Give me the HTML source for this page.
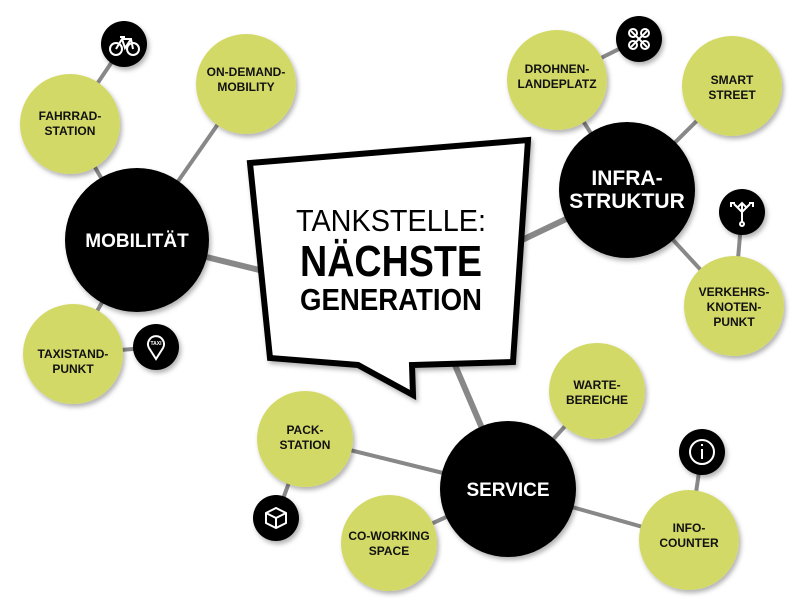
<!DOCTYPE html>
<html><head><meta charset="utf-8"><style>
html,body{margin:0;padding:0;background:#fff;}
svg{display:block;}
text{font-family:"Liberation Sans",sans-serif;font-weight:bold;text-anchor:middle;}
</style></head><body>
<svg width="800" height="600" viewBox="0 0 800 600">
<defs><filter id="sh" x="-20%" y="-20%" width="150%" height="150%"><feDropShadow dx="2" dy="3" stdDeviation="2.5" flood-color="#000" flood-opacity="0.3"/></filter></defs>
<g stroke="#888" stroke-width="4">
<line x1="137" y1="240" x2="70" y2="124"/>
<line x1="70" y1="124" x2="124" y2="44"/>
<line x1="137" y1="240" x2="246" y2="84"/>
<line x1="137" y1="240" x2="73" y2="354"/>
<line x1="73" y1="354" x2="156" y2="347"/>
<line x1="137" y1="240" x2="300" y2="280" stroke-width="6"/>
<line x1="627" y1="190" x2="557" y2="80"/>
<line x1="557" y1="80" x2="639" y2="39"/>
<line x1="627" y1="190" x2="732" y2="86"/>
<line x1="627" y1="190" x2="734" y2="306"/>
<line x1="734" y1="306" x2="742" y2="212"/>
<line x1="627" y1="190" x2="480" y2="260" stroke-width="6"/>
<line x1="508" y1="489" x2="440" y2="330" stroke-width="6"/>
<line x1="508" y1="489" x2="597" y2="391"/>
<line x1="508" y1="489" x2="305" y2="439"/>
<line x1="305" y1="439" x2="276" y2="518"/>
<line x1="508" y1="489" x2="389" y2="543"/>
<line x1="508" y1="489" x2="689" y2="540"/>
<line x1="689" y1="540" x2="702" y2="452"/>
</g>
<g filter="url(#sh)">
<g fill="#d3d966">
<circle cx="70" cy="124" r="50"/><circle cx="246" cy="84" r="50"/><circle cx="73" cy="354" r="50"/>
<circle cx="557" cy="80" r="50"/><circle cx="732" cy="86" r="50"/><circle cx="734" cy="306" r="50"/>
<circle cx="597" cy="391" r="48"/><circle cx="305" cy="439" r="48"/><circle cx="389" cy="543" r="48"/><circle cx="689" cy="540" r="50"/>
</g>
<g fill="#000">
<circle cx="137" cy="240" r="72"/><circle cx="627" cy="190" r="68"/><circle cx="508" cy="489" r="68"/>
<circle cx="124" cy="44" r="23"/><circle cx="639" cy="39" r="23"/><circle cx="742" cy="212" r="23"/>
<circle cx="156" cy="347" r="23"/><circle cx="702" cy="452" r="23"/><circle cx="276" cy="518" r="23"/>
</g>
<polygon points="250,163 528,140 513,362 412,365 413,395 358,365 270,358" fill="#fff" stroke="#000" stroke-width="6" stroke-linejoin="miter"/>
</g>
<g fill="#fff" stroke="#fff" stroke-width="2" fill-opacity="0">
<circle cx="116" cy="49" r="6"/><circle cx="133" cy="49" r="6"/><path d="M116 49 L122 39 L131 39 L133 49 M122 39 L125 48 L131 39 M120 37 h5"/>
<path d="M631 31 l16 16 M647 31 l-16 16"/><circle cx="633" cy="33" r="4"/><circle cx="645" cy="33" r="4"/><circle cx="633" cy="45" r="4"/><circle cx="645" cy="45" r="4"/>
<path d="M742 222 V203 M742 212 l-8 -8 M742 212 l8 -8 M738 207 l4 -4 4 4 M731 207 v-4 h4 M753 207 v-4 h-4"/><circle cx="742" cy="224" r="2"/>
<path d="M156 359 L149 348 A8 8 0 1 1 163 348 Z"/>
<circle cx="702" cy="452" r="12"/><path d="M702 449 v10 M702 444 v2"/>
<path d="M266 513 l10 -5 10 5 v10 l-10 5 -10 -5 Z M266 513 l10 5 10 -5 M276 518 v10"/>
</g>
<text x="156" y="345" font-size="5" fill="#fff" stroke="none">TAXI</text>
<g font-size="12" fill="#111">
<text x="70" y="120">FAHRRAD-</text><text x="70" y="135">STATION</text>
<text x="246" y="76">ON-DEMAND-</text><text x="246" y="91">MOBILITY</text>
<text x="73" y="358">TAXISTAND-</text><text x="73" y="373">PUNKT</text>
<text x="557" y="73">DROHNEN-</text><text x="557" y="88">LANDEPLATZ</text>
<text x="732" y="84">SMART</text><text x="732" y="99">STREET</text>
<text x="734" y="296">VERKEHRS-</text><text x="734" y="311">KNOTEN-</text><text x="734" y="326">PUNKT</text>
<text x="597" y="389">WARTE-</text><text x="597" y="404">BEREICHE</text>
<text x="305" y="434">PACK-</text><text x="305" y="449">STATION</text>
<text x="389" y="540">CO-WORKING</text><text x="389" y="555">SPACE</text>
<text x="689" y="532">INFO-</text><text x="689" y="547">COUNTER</text>
</g>
<g fill="#fff">
<text x="137" y="247" font-size="19">MOBILITÄT</text>
<text x="627" y="185" font-size="21">INFRA-</text><text x="627" y="208" font-size="21">STRUKTUR</text>
<text x="508" y="496" font-size="19">SERVICE</text>
</g>
<g fill="#000">
<text x="391" y="231" font-size="31" style="font-weight:normal" textLength="190" lengthAdjust="spacingAndGlyphs">TANKSTELLE:</text>
<text x="391" y="276" font-size="44" textLength="182" lengthAdjust="spacingAndGlyphs">NÄCHSTE</text>
<text x="391" y="310" font-size="31" textLength="182" lengthAdjust="spacingAndGlyphs">GENERATION</text>
</g>
</svg>
</body></html>
